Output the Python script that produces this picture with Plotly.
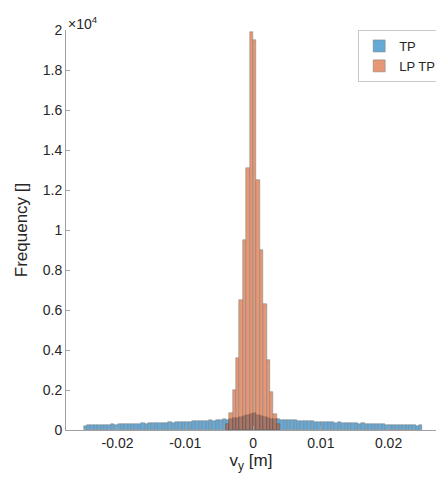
import plotly.graph_objects as go

# Histogram bins (width 0.0005 m)
BIN_W = 0.0005
tp_start = -0.025
tp_counts = [
    220, 240, 230, 250, 260, 240, 270, 260, 280, 270,
    290, 280, 300, 310, 290, 320, 300, 330, 310, 340,
    330, 350, 340, 370, 360, 380, 370, 400, 390, 410,
    420, 400, 440, 430, 460, 450, 470, 480, 460, 500,
    510, 530, 520, 560, 580, 600, 650, 700, 760, 820,
    830, 760, 700, 640, 600, 570, 550, 530, 520, 510,
    500, 480, 490, 460, 470, 450, 440, 430, 420, 410,
    400, 410, 390, 380, 370, 380, 360, 350, 340, 350,
    330, 320, 330, 310, 300, 310, 290, 280, 290, 270,
    270, 260, 250, 260, 240, 250, 230, 240, 220, 230,
]
lp_start = -0.004
lp_counts = [300, 850, 2000, 3600, 6500, 9500, 13100, 19900,
             19500, 12500, 9000, 6300, 3500, 1900, 800, 300]

y_tickvals = [0, 2000, 4000, 6000, 8000, 10000, 12000, 14000, 16000, 18000, 20000]
y_ticktext = ["0", "0.2", "0.4", "0.6", "0.8", "1", "1.2", "1.4", "1.6", "1.8", "2"]
x_tickvals = [-0.02, -0.01, 0, 0.01, 0.02]
x_ticktext = ["-0.02", "-0.01", "0", "0.01", "0.02"]

tp_x = [tp_start + BIN_W * (i + 0.5) for i in range(len(tp_counts))]
lp_x = [lp_start + BIN_W * (i + 0.5) for i in range(len(lp_counts))]

FONT = "Liberation Sans, Arial, sans-serif"
fig = go.Figure()
fig.add_trace(go.Bar(x=tp_x, y=tp_counts, width=BIN_W, name="TP",
                     marker=dict(color="rgb(0,114,189)", line=dict(color="#262626", width=0.5)),
                     opacity=0.6))
fig.add_trace(go.Bar(x=lp_x, y=lp_counts, width=BIN_W, name="LP TP",
                     marker=dict(color="rgb(217,83,25)", line=dict(color="#262626", width=0.5)),
                     opacity=0.6))

fig.update_layout(
    width=436, height=489,
    margin=dict(l=66, r=0, t=30, b=59, autoexpand=False),
    barmode="overlay", bargap=0,
    paper_bgcolor="white", plot_bgcolor="white",
    font=dict(family=FONT, size=14, color="#262626"),
    showlegend=True,
    legend=dict(x=1.014, y=1, xanchor="right", yanchor="top",
                bgcolor="white", bordercolor="#c8c8c8", borderwidth=1,
                font=dict(size=13), tracegroupgap=0, itemwidth=30),
    xaxis=dict(range=[-0.0276, 0.0270], tickvals=x_tickvals, ticktext=x_ticktext,
               showgrid=False, zeroline=False, showline=True, linecolor="#a0a0a0",
               ticks="inside", ticklen=4, tickcolor="#a0a0a0", automargin=False,
               title=dict(text="v<sub>y</sub> [m]", standoff=4)),
    yaxis=dict(range=[0, 20000], tickvals=y_tickvals, ticktext=y_ticktext,
               showgrid=False, zeroline=False, showline=True, linecolor="#a0a0a0",
               ticks="inside", ticklen=4, tickcolor="#a0a0a0", automargin=False,
               title=dict(text="Frequency []", standoff=10)),
    annotations=[dict(text="×10<sup>4</sup>", xref="paper", yref="paper", x=0, y=1,
                      xanchor="left", yanchor="bottom", showarrow=False,
                      font=dict(size=14, color="#262626"), yshift=-4)],
)

fig.write_html("out.html", config={"displayModeBar": False},
               post_script="document.body.style.margin='0';document.body.style.overflow='hidden';")
